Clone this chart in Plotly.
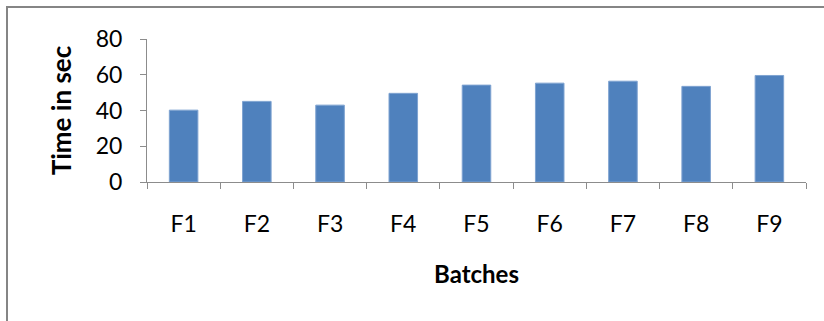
import plotly.graph_objects as go

# Dissolution time per formulation batch
batches = ["F1", "F2", "F3", "F4", "F5", "F6", "F7", "F8", "F9"]
time_sec = [40.2, 45.1, 43.0, 49.6, 54.2, 55.3, 56.4, 53.5, 59.6]
y_ticks = [0, 20, 40, 60, 80]

W, H = 824, 321
# outer margins: the chart frame's left and top edges sit on the paper edge
ML, MT, MR, MB = 8, 8, 0, 0
paper_w = W - ML - MR
paper_h = H - MT - MB

# plotting area of the bar chart, in pixels
px_left, px_right, px_top, px_bottom = 147, 806, 39, 182
x_domain = [(px_left - ML) / paper_w, (px_right - ML) / paper_w]
y_domain = [(H - MB - px_bottom) / paper_h, (H - MB - px_top) / paper_h]

font_family = "Lato, Carlito, 'Open Sans', sans-serif"
axis_grey = "#8c8c8c"
frame_grey = "#858585"

fig = go.Figure()
fig.add_trace(
    go.Bar(
        x=batches,
        y=time_sec,
        marker=dict(color="#4F81BD", line=dict(color="#7fa3d1", width=1)),
        xaxis="x",
        yaxis="y",
    )
)
# empty trace carrying the frame axes
fig.add_trace(go.Scatter(x=[], y=[], xaxis="x2", yaxis="y2", showlegend=False))

fig.update_layout(
    width=W,
    height=H,
    margin=dict(l=ML, r=MR, t=MT, b=MB, autoexpand=False),
    paper_bgcolor="white",
    plot_bgcolor="rgba(0,0,0,0)",
    bargap=0.61,
    showlegend=False,
    font=dict(family=font_family, color="black"),
    xaxis=dict(
        domain=x_domain,
        anchor="y",
        type="category",
        showline=True,
        linecolor=axis_grey,
        linewidth=1,
        ticks="outside",
        tickson="boundaries",
        ticklen=6,
        tickcolor=axis_grey,
        tickfont=dict(size=23, family=font_family, color="black"),
        ticklabelstandoff=21,
        showgrid=False,
        zeroline=False,
        automargin=False,
        title=dict(
            text="<b>Batches</b>",
            font=dict(size=24, family=font_family, color="black"),
            standoff=30,
        ),
    ),
    yaxis=dict(
        domain=y_domain,
        anchor="x",
        range=[0, 80],
        tickvals=y_ticks,
        showline=True,
        linecolor=axis_grey,
        linewidth=1,
        ticks="outside",
        ticklen=6,
        tickcolor=axis_grey,
        tickfont=dict(size=23, family=font_family, color="black"),
        ticklabelstandoff=13,
        showgrid=False,
        zeroline=False,
        automargin=False,
        title=dict(
            text="<b>Time in sec</b>",
            font=dict(size=26, family=font_family, color="black"),
            standoff=16,
        ),
    ),
    # frame: top and left edges only
    xaxis2=dict(
        domain=[0, 1],
        anchor="y2",
        side="top",
        range=[0, 1],
        showline=True,
        linecolor=frame_grey,
        linewidth=2,
        showticklabels=False,
        ticks="",
        showgrid=False,
        zeroline=False,
        fixedrange=True,
    ),
    yaxis2=dict(
        domain=[0, 1],
        anchor="x2",
        side="left",
        range=[0, 1],
        showline=True,
        linecolor=frame_grey,
        linewidth=2,
        showticklabels=False,
        ticks="",
        showgrid=False,
        zeroline=False,
        fixedrange=True,
    ),
)

fig.write_html("out.html", config={"displayModeBar": False})
